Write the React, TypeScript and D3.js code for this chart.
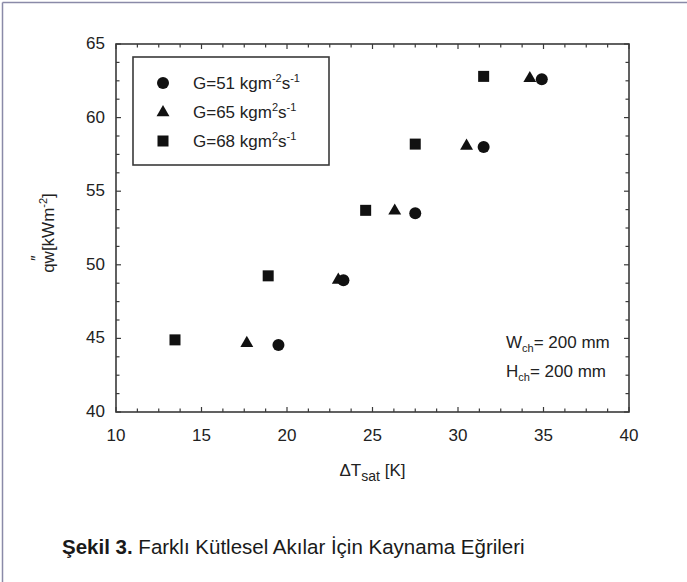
import * as d3 from "d3";
import React from "react";

// data (ΔTsat [K], q"w [kW/m2])
const g51X = [19.5, 23.3, 27.5, 31.5, 34.9];
const g51Y = [44.55, 48.95, 53.5, 58.0, 62.6];
const g65X = [17.65, 23.0, 26.3, 30.5, 34.2];
const g65Y = [44.7, 49.0, 53.7, 58.1, 62.7];
const g68X = [13.45, 18.9, 24.6, 27.5, 31.5];
const g68Y = [44.9, 49.25, 53.7, 58.2, 62.8];

const xTicks = [10, 15, 20, 25, 30, 35, 40];
const yTicks = [40, 45, 50, 55, 60, 65];

const W = 687;
const H = 582;
const plot = { left: 116, right: 629, top: 44, bottom: 412 };
const font = "'Liberation Sans', Arial, Helvetica, sans-serif";
const axisCol = "#3a3a3a";
const ink = "#111";

function Marker({ kind, x, y }: { kind: string; x: number; y: number }) {
  if (kind === "circle") return <circle cx={x} cy={y} r={6} fill={ink} />;
  if (kind === "square")
    return <rect x={x - 5.5} y={y - 5.5} width={11} height={11} fill={ink} />;
  const tri = d3.symbol().type(d3.symbolTriangle).size(72)();
  return <path d={tri as string} transform={`translate(${x},${y + 0.5})`} fill={ink} />;
}

export default function App() {
  const x = d3.scaleLinear().domain([10, 40]).range([plot.left, plot.right]);
  const y = d3.scaleLinear().domain([40, 65]).range([plot.bottom, plot.top]);

  // minor ticks every 1.25
  const minorX = d3.range(0, 25).map((i) => 10 + i * 1.25);
  const minorY = d3.range(0, 21).map((i) => 40 + i * 1.25);

  const series = [
    { kind: "circle", xs: g51X, ys: g51Y },
    { kind: "triangle", xs: g65X, ys: g65Y },
    { kind: "square", xs: g68X, ys: g68Y },
  ];

  const legendRows = [
    { kind: "circle", label: "G=51 kgm", sup1: "-2", sup2: "-1" },
    { kind: "triangle", label: "G=65 kgm", sup1: "2", sup2: "-1" },
    { kind: "square", label: "G=68 kgm", sup1: "2", sup2: "-1" },
  ];

  return (
    <svg width={W} height={H} style={{ position: "absolute", left: 0, top: 0, background: "#fff" }}>
      <rect x={0} y={0} width={W} height={H} fill="#fff" />
      {/* outer frame */}
      <line x1={2.5} y1={2.5} x2={W} y2={2.5} stroke="#8a8aa8" strokeWidth={1.5} />
      <line x1={2.5} y1={2.5} x2={2.5} y2={H} stroke="#8a8aa8" strokeWidth={1.5} />

      {/* ticks */}
      <g stroke={axisCol} strokeWidth={1.2}>
        {minorX.map((v, i) => {
          const len = i % 4 === 0 ? 5 : 3.5;
          return (
            <g key={"tx" + i}>
              <line x1={x(v)} x2={x(v)} y1={plot.bottom} y2={plot.bottom - len} />
              <line x1={x(v)} x2={x(v)} y1={plot.top} y2={plot.top + len} />
            </g>
          );
        })}
        {minorY.map((v, i) => {
          const len = i % 4 === 0 ? 5 : 3.5;
          return (
            <g key={"ty" + i}>
              <line y1={y(v)} y2={y(v)} x1={plot.left} x2={plot.left + len} />
              <line y1={y(v)} y2={y(v)} x1={plot.right} x2={plot.right - len} />
            </g>
          );
        })}
      </g>
      <rect
        x={plot.left}
        y={plot.top}
        width={plot.right - plot.left}
        height={plot.bottom - plot.top}
        fill="none"
        stroke={axisCol}
        strokeWidth={1.6}
      />

      {/* tick labels */}
      <g fontFamily={font} fontSize={17} fill="#222">
        {xTicks.map((t) => (
          <text key={"xl" + t} x={x(t)} y={441} textAnchor="middle">
            {t}
          </text>
        ))}
        {yTicks.map((t) => (
          <text key={"yl" + t} x={105} y={y(t) + 5} textAnchor="end">
            {t}
          </text>
        ))}
      </g>

      {/* axis titles */}
      <text x={(plot.left + plot.right) / 2} y={476} textAnchor="middle" fontFamily={font} fontSize={17} fill="#222">
        ΔT<tspan fontSize={14} dy={5}>sat</tspan>
        <tspan dy={-5}> [K]</tspan>
      </text>
      <g transform={`translate(54,${(plot.top + plot.bottom) / 2 + 5}) rotate(-90)`}>
        <text x={0} y={0} textAnchor="middle" fontFamily={font} fontSize={17} fill="#222">
          qw[kWm<tspan fontSize={11} dy={-7}>-2</tspan>
          <tspan dy={7}>]</tspan>
        </text>
        <text x={-28} y={-11} fontFamily={font} fontSize={16} fill="#222">
          ″
        </text>
      </g>

      {/* data points */}
      {series.map((s) =>
        s.xs.map((v, i) => <Marker key={s.kind + i} kind={s.kind} x={x(v)} y={y(s.ys[i])} />)
      )}

      {/* legend */}
      <rect x={133} y={57} width={196} height={108} fill="#fff" stroke={axisCol} strokeWidth={1.6} />
      {legendRows.map((r, i) => {
        const cy = 83 + i * 29;
        return (
          <g key={"lg" + i}>
            <Marker kind={r.kind} x={163} y={cy} />
            <text x={193} y={cy + 6} fontFamily={font} fontSize={17} fill="#222">
              {r.label}
              <tspan fontSize={11} dy={-7}>{r.sup1}</tspan>
              <tspan dy={7}>s</tspan>
              <tspan fontSize={11} dy={-7}>{r.sup2}</tspan>
            </text>
          </g>
        );
      })}

      {/* annotations */}
      <g fontFamily={font} fontSize={17} fill="#222">
        <text x={506} y={348}>
          W<tspan fontSize={11} dy={4}>ch</tspan>
          <tspan dy={-4}>= 200 mm</tspan>
        </text>
        <text x={506} y={377}>
          H<tspan fontSize={11} dy={4}>ch</tspan>
          <tspan dy={-4}>= 200 mm</tspan>
        </text>
      </g>

      {/* caption */}
      <text x={62} y={554} fontFamily={font} fontSize={20.5} fill="#1a1a1a">
        <tspan fontWeight="bold">Şekil 3.</tspan> Farklı Kütlesel Akılar İçin Kaynama Eğrileri
      </text>
    </svg>
  );
}
